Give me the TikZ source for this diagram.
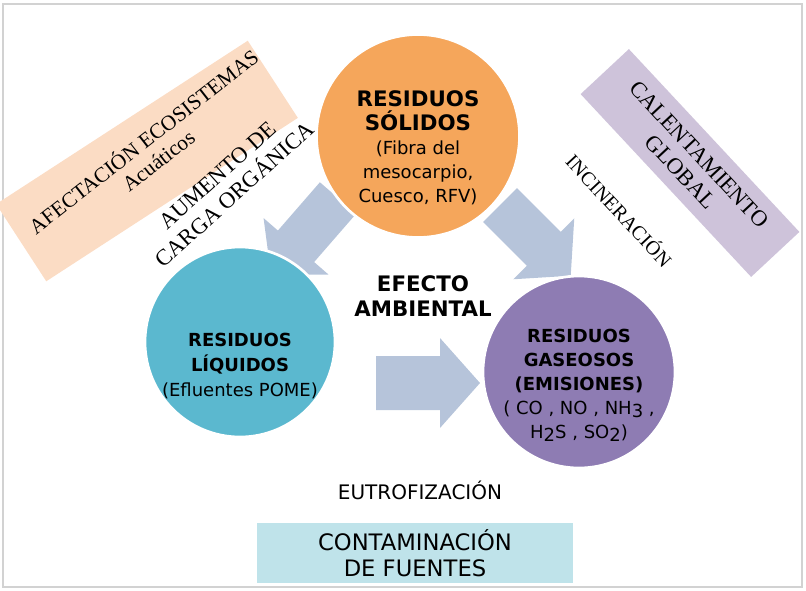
\documentclass[tikz,border=0pt]{standalone}
\usepackage{fontspec}
\setmainfont{DejaVu Sans}
\newfontfamily\romfont{Liberation Serif}
\definecolor{solidcol}{RGB}{245,166,91}
\definecolor{liqcol}{RGB}{91,184,207}
\definecolor{gascol}{RGB}{142,124,179}
\definecolor{arrcol}{RGB}{182,196,218}
\definecolor{peachcol}{RGB}{251,220,196}
\definecolor{lilaccol}{RGB}{206,195,218}
\definecolor{fuentecol}{RGB}{191,227,234}
\newcommand{\sbx}[1]{\raisebox{-0.3ex}{#1}}
% flecha gruesa: cola, angulo, largo, cuerpo, cabeza, largo de cabeza
\newcommand{\flechagorda}[6]{%
  \begin{scope}[shift={#1},rotate=#2]
    \fill[arrcol] (0,-#4/2) -- (#3-#6,-#4/2) -- (#3-#6,-#5/2) -- (#3,0)
      -- (#3-#6,#5/2) -- (#3-#6,#4/2) -- (0,#4/2) -- cycle;
  \end{scope}}
\begin{document}
\begin{tikzpicture}[x=0.75pt,y=-0.75pt,
    residuo/.style={circle,draw=white,line width=2pt,inner sep=0pt},
    rotulo/.style={align=center,inner sep=0pt,font=\fontsize{13.5}{18}\selectfont},
    cinta/.style={draw=none,align=center,font=\romfont\fontsize{16}{18}\selectfont},
    lema/.style={align=center,font=\fontsize{13}{15}\selectfont}]
  \useasboundingbox (0,0) rectangle (806,590);
  \draw[gray!35,line width=1.5pt] (3,4) rectangle (802,587);
  % cintas diagonales
  \node[cinta,fill=peachcol,minimum width=300*0.75pt,minimum height=92*0.75pt,rotate=33] (ecos) at (147,161) {};
  \node[cinta,rotate=38] (ecostxt) at (150,150) {AFECTACIÓN ECOSISTEMAS\\Acuáticos};
  \node[cinta,fill=lilaccol,minimum width=250*0.75pt,minimum height=66*0.75pt,rotate=-47,
        font=\romfont\fontsize{17}{19}\selectfont] (calen) at (690,163) {CALENTAMIENTO\\GLOBAL};
  % flechas
  \flechagorda{(338,198)}{229}{102}{48}{86}{38}
  \flechagorda{(500,205)}{-45}{100}{48}{86}{38}
  \flechagorda{(376,383)}{0}{104}{54}{90}{40}
  % residuos
  \node[residuo,fill=solidcol,minimum size=203*0.75pt] (solido) at (418,136) {};
  \node[residuo,fill=liqcol,minimum size=190*0.75pt] (liquido) at (240,342) {};
  \node[residuo,fill=gascol,minimum size=192*0.75pt] (gaseoso) at (579,372) {};
  \node[rotulo] (solidotxt) at (418,148)
    {\bfseries\fontsize{16}{20}\selectfont RESIDUOS\\\bfseries\fontsize{16}{20}\selectfont SÓLIDOS\\
     (Fibra del\\mesocarpio,\\Cuesco, RFV)};
  \node[rotulo,font=\fontsize{13.5}{19}\selectfont] (liquidotxt) at (240,366)
    {\bfseries RESIDUOS\\\bfseries LÍQUIDOS\\(Efluentes POME)};
  \node[rotulo] (gaseosotxt) at (579,385)
    {\bfseries RESIDUOS\\\bfseries GASEOSOS\\\bfseries(EMISIONES)\\
     ( CO , NO , NH\sbx{3} ,\\H\sbx{2}S , SO\sbx{2})};
  % textos
  \node[lema,font=\romfont\fontsize{17}{19}\selectfont,rotate=42] (carga) at (226,185) {AUMENTO DE\\CARGA ORGÁNICA};
  \node[lema,font=\romfont\fontsize{15}{17}\selectfont,rotate=-47] (incin) at (620,210) {INCINERACIÓN};
  \node[lema,font=\bfseries\fontsize{16}{19}\selectfont] (efecto) at (423,296) {EFECTO\\AMBIENTAL};
  \node[lema,font=\fontsize{15}{17}\selectfont] (eutro) at (420,490) {EUTROFIZACIÓN};
  \node[fill=fuentecol,minimum width=316*0.75pt,minimum height=60*0.75pt,align=center,
        font=\fontsize{17}{20}\selectfont] (fuentes) at (415,553) {CONTAMINACIÓN\\DE FUENTES};
\end{tikzpicture}
\end{document}
